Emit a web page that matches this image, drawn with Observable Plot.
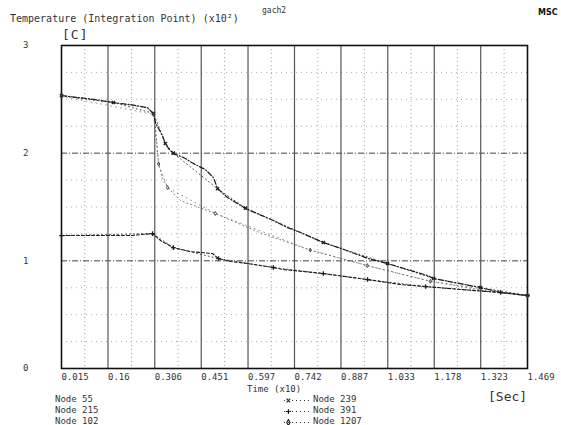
<!DOCTYPE html>
<html><head><meta charset="utf-8">
<script src="https://cdn.jsdelivr.net/npm/d3@7"></script>
<script src="https://cdn.jsdelivr.net/npm/@observablehq/plot@0.6"></script>
<style>
body{margin:0;background:#fff;}
#wrap{position:relative;width:561px;height:425px;overflow:hidden;font-family:"DejaVu Sans Mono",monospace;color:#333;}
.t{position:absolute;white-space:pre;line-height:1;}
#wrap svg.plot{position:absolute;left:0;top:0;}
</style></head><body><div id="wrap"></div>
<script>
// ---- tick labels ----
const xTicks = [0.015,0.16,0.306,0.451,0.597,0.742,0.887,1.033,1.178,1.323,1.469];
const xTickLabels = ["0.015","0.16","0.306","0.451","0.597","0.742","0.887","1.033","1.178","1.323","1.469"];
const yTicks = [0,1,2,3];
const yTickLabels = ["0","1","2","3"];

// ---- series (time x10 s, temperature x100 C) ----
const time55 = [0.015,0.121,0.177,0.230,0.283,0.302,0.308,0.318,0.330,0.339,0.349,0.364,0.396,0.427,0.464,0.489,0.502,0.533,0.564,0.589,0.676,0.720,0.761,0.832,0.879,0.973,1.032,1.157,1.176,1.322,1.385,1.469];
const temp55 = [2.535,2.498,2.470,2.451,2.423,2.368,2.284,2.228,2.163,2.089,2.043,1.996,1.959,1.903,1.848,1.773,1.671,1.588,1.532,1.486,1.374,1.309,1.263,1.170,1.123,1.021,0.975,0.864,0.836,0.752,0.706,0.678];

const time215 = [0.015,0.177,0.283,0.302,0.308,0.318,0.330,0.346,0.386,0.495,0.635,0.791,0.969,1.166,1.353,1.469];
const temp215 = [2.53,2.47,2.42,2.36,2.26,1.90,1.77,1.68,1.56,1.44,1.26,1.10,0.956,0.81,0.715,0.678];

const time102 = [0.015,0.137,0.230,0.299,0.324,0.364,0.417,0.486,0.505,0.542,0.595,0.676,0.708,0.832,0.970,1.073,1.151,1.260,1.385,1.469];
const temp102 = [1.235,1.235,1.235,1.253,1.188,1.123,1.086,1.068,1.021,0.994,0.975,0.938,0.919,0.882,0.826,0.780,0.761,0.734,0.706,0.678];

const time239 = [0.015,0.177,0.302,0.339,0.364,0.502,0.589,0.832,1.032,1.176,1.322,1.469];
const temp239 = [2.535,2.47,2.37,2.09,2.00,1.67,1.49,1.17,0.975,0.836,0.752,0.678];

const time391 = [0.015,0.299,0.364,0.505,0.676,0.832,0.970,1.151,1.385,1.469];
const temp391 = [1.235,1.253,1.123,1.021,0.938,0.882,0.826,0.761,0.706,0.678];

const time1207 = [0.015,0.302,0.318,0.346,0.495,0.791,0.969,1.166,1.469];
const temp1207 = [2.53,2.36,1.90,1.68,1.44,1.10,0.956,0.81,0.678];

const legendLeft = ["Node 55","Node 215","Node 102"];
const legendMid = ["Node 239","Node 391","Node 1207"];

// ---- build tables ----
const toRows = (node, t, v) => t.map((d, i) => ({node, t: d, v: v[i]}));
const s55 = toRows("Node 55", time55, temp55);
const s215 = toRows("Node 215", time215, temp215);
const s102 = toRows("Node 102", time102, temp102);
const s239 = toRows("Node 239", time239, temp239);
const s391 = toRows("Node 391", time391, temp391);
const s1207 = toRows("Node 1207", time1207, temp1207);

const labelMap = new Map(xTicks.map((d, i) => [d, xTickLabels[i]]));
const yLabelMap = new Map(yTicks.map((d, i) => [d, yTickLabels[i]]));
const minorX = d3.pairs(xTicks).map(([a, b]) => (a + b) / 2);
const quarterY = d3.range(0.25, 3, 0.25).filter(d => d % 1 !== 0);

const ink = "#1b1b1b";
const plot = Plot.plot({
  width: 561, height: 425,
  marginLeft: 61, marginRight: 34, marginTop: 45, marginBottom: 57,
  style: {fontFamily: "DejaVu Sans Mono, monospace", fontSize: "9px", color: "#333", background: "transparent"},
  x: {domain: [0.015, 1.469], axis: null},
  y: {domain: [0, 3], axis: null},
  marks: [
    Plot.ruleX(minorX, {stroke: "#888", strokeDasharray: "1,3", strokeWidth: 0.8}),
    Plot.ruleY(quarterY, {stroke: "#999", strokeDasharray: "1,4", strokeWidth: 0.8}),
    Plot.ruleY([1, 2], {stroke: "#444", strokeDasharray: "6,2,1,2", strokeWidth: 1}),
    Plot.ruleX(xTicks.slice(1, -1), {stroke: "#555", strokeWidth: 1.2}),
    Plot.frame({stroke: "#111", strokeWidth: 1.6}),
    Plot.line(s102, {x: "t", y: "v", stroke: ink, strokeWidth: 1.1, strokeDasharray: "3,2"}),
    Plot.line(s215, {x: "t", y: "v", stroke: "#555", strokeWidth: 0.8, strokeDasharray: "1,3"}),
    Plot.line(s55, {x: "t", y: "v", stroke: ink, strokeWidth: 1.2, strokeDasharray: "5,2,1,2"}),
    Plot.line(s239, {x: "t", y: "v", stroke: ink, strokeWidth: 0.8, strokeDasharray: "1,3"}),
    Plot.line(s391, {x: "t", y: "v", stroke: ink, strokeWidth: 0.8, strokeDasharray: "1,3"}),
    Plot.line(s1207, {x: "t", y: "v", stroke: "#666", strokeWidth: 0.7, strokeDasharray: "1,4"}),
    Plot.dot(s239, {x: "t", y: "v", symbol: "times", r: 1.6, stroke: ink, strokeWidth: 1.3}),
    Plot.dot(s391, {x: "t", y: "v", symbol: "plus", r: 1.6, stroke: ink, strokeWidth: 1.3}),
    Plot.dot(s1207, {x: "t", y: "v", symbol: "diamond", r: 1.2, stroke: "#444", strokeWidth: 1}),
    Plot.axisX({ticks: xTicks, tickFormat: d => labelMap.get(d), tickSize: 0, tickPadding: 5, textAnchor: "start", label: null, fill: "#333"}),
    Plot.axisY({ticks: yTicks, tickFormat: d => yLabelMap.get(d), tickSize: 0, tickPadding: 33, label: null, fill: "#333"})
  ]
});
const wrap = document.getElementById("wrap");
wrap.appendChild(plot);

function addText(txt, left, top, css) {
  const d = document.createElement("div");
  d.className = "t";
  d.textContent = txt;
  d.style.left = left + "px";
  d.style.top = top + "px";
  Object.assign(d.style, css || {});
  wrap.appendChild(d);
  return d;
}
addText("Temperature (Integration Point) (x10²)", 10, 14, {fontSize: "10px"});
addText("gach2", 262, 7, {fontSize: "8px"});
addText("MSC", 538, 9, {fontSize: "8px", fontWeight: "bold", fontFamily: "DejaVu Sans, sans-serif", color: "#111"});
addText("[C]", 62, 28, {fontSize: "13px", letterSpacing: "1px"});
addText("Time (x10)", 247, 385, {fontSize: "9px"});
addText("[Sec]", 488, 390, {fontSize: "13px"});

legendLeft.forEach((n, i) => addText(n, 55, 395 + i * 11, {fontSize: "9px"}));
const symbols = ["times", "plus", "diamond"];
legendMid.forEach((n, i) => {
  const y = 395 + i * 11;
  const sw = Plot.plot({
    width: 26, height: 10, margin: 0,
    x: {domain: [0, 1], axis: null}, y: {domain: [0, 1], axis: null},
    style: {background: "transparent"},
    marks: [
      Plot.ruleY([0.5], {stroke: ink, strokeDasharray: "1,3", strokeWidth: 0.9}),
      Plot.dot([0.15], {x: d => d, y: 0.5, symbol: symbols[i], r: 1.8, stroke: ink, strokeWidth: 1.1})
    ]
  });
  sw.style.position = "absolute";
  sw.style.left = "284px";
  sw.style.top = y + "px";
  wrap.appendChild(sw);
  addText(n, 313, y, {fontSize: "9px"});
});
</script></body></html>
